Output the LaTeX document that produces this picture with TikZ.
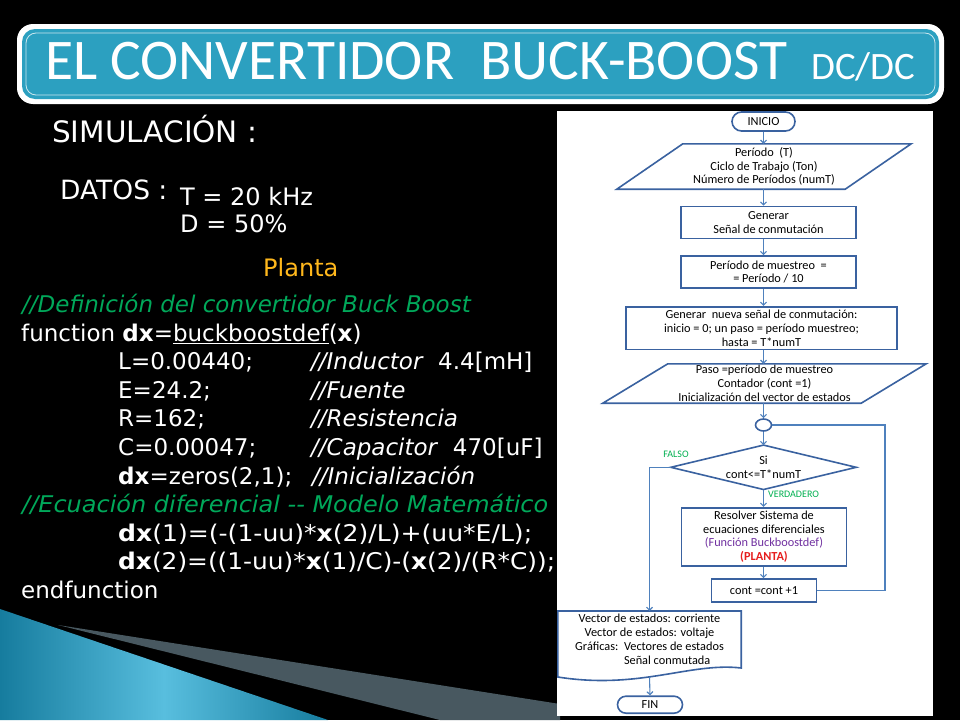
\documentclass[tikz,border=0pt]{standalone}
\usepackage{fontspec}
\usepackage{graphicx}
\setmainfont{DejaVu Sans}
\newfontfamily\calfont{Carlito}
\usetikzlibrary{arrows.meta,shapes.geometric,shapes.misc,calc}
\definecolor{titleteal}{RGB}{44,160,192}
\definecolor{tealdark}{RGB}{22,124,158}
\definecolor{teallight}{RGB}{88,190,222}
\definecolor{wedgegray}{RGB}{72,88,96}
\definecolor{cmtgreen}{RGB}{0,168,90}
\definecolor{plantaorange}{RGB}{255,184,28}
\definecolor{flowborder}{RGB}{58,98,160}
\definecolor{flowline}{RGB}{79,129,189}
\definecolor{lblgreen}{RGB}{0,176,80}
\definecolor{fpurple}{RGB}{112,48,160}
\definecolor{fred}{RGB}{230,30,30}
\tikzset{
  slidetxt/.style={inner sep=0pt, anchor=base west, text=white},
  codetxt/.style={inner sep=0pt, anchor=base west, text=white, font=\fontsize{23}{28}\selectfont},
  ftext/.style={inner sep=0pt, align=center, font=\calfont\fontsize{12.3}{13.8}\selectfont, text=black},
  fbox/.style={ftext, draw=flowborder, line width=1.6pt, fill=white},
  fborder/.style={draw=flowborder, line width=1.6pt},
  fterm/.style={ftext, rounded rectangle, draw=flowborder, line width=1.6pt, fill=white},
  fline/.style={draw=flowline, line width=1.1pt},
  farrow/.style={fline, -{Straight Barb[length=3pt,width=6pt]}},
  flbl/.style={inner sep=0pt, text=lblgreen, font=\calfont\fontsize{10}{12}\selectfont}
}
\begin{document}
\begin{tikzpicture}[x=1pt,y=-1pt]
\useasboundingbox (0,0) rectangle (960,720);
\fill[black] (0,0) rectangle (960,720);

% bottom-left swoosh
\fill[wedgegray] (58,625) -- (560,704) -- (560,720) -- (440,720) -- cycle;
\shade[left color=tealdark, right color=tealdark, middle color=teallight] (0,609) -- (328,720) -- (0,720) -- cycle;

% title banner
\fill[white, rounded corners=16pt] (17,24) rectangle (944,104);
\fill[titleteal, rounded corners=13pt] (22,29) rectangle (939,99);
\draw[white, opacity=0.75, line width=0.8pt, rounded corners=10pt] (26,33) rectangle (935,95);
\node[slidetxt, font=\calfont\fontsize{57.5}{60}\selectfont] (title) at (45,79) {EL CONVERTIDOR\ \ BUCK-BOOST};
\node[slidetxt, font=\calfont\fontsize{38.8}{40}\selectfont] (dcdc) at (811,79) {DC/DC};

% left texts
\node[slidetxt, font=\fontsize{29.5}{32}\selectfont] (sim) at (52,142.5) {SIMULACIÓN :};
\node[slidetxt, font=\fontsize{26.5}{30}\selectfont] (datos) at (60,199.5) {DATOS :};
\node[slidetxt, font=\fontsize{24}{28}\selectfont] (tval) at (180,205) {T = 20 kHz};
\node[slidetxt, font=\fontsize{24}{28}\selectfont] (dval) at (180,232.5) {D = 50\%};
\node[slidetxt, text=plantaorange, font=\fontsize{24}{28}\selectfont] (planta) at (263,276.7) {Planta};

% code
\node[codetxt, text=cmtgreen] (k1) at (22,312.5) {\itshape //Definición del convertidor Buck Boost};
\node[codetxt] (k2) at (21,341.1) {function \textbf{dx}=\underline{buckboostdef}(\textbf{x})};
\node[codetxt] (k3) at (118,369.7) {L=0.00440;};
\node[codetxt] (k3c) at (311,369.7) {\textit{//Inductor}\ \ 4.4[mH]};
\node[codetxt] (k4) at (118,398.3) {E=24.2;};
\node[codetxt] (k4c) at (311,398.3) {\textit{//Fuente}};
\node[codetxt] (k5) at (118,426.9) {R=162;};
\node[codetxt] (k5c) at (311,426.9) {\textit{//Resistencia}};
\node[codetxt] (k6) at (118,455.5) {C=0.00047;};
\node[codetxt] (k6c) at (311,455.5) {\textit{//Capacitor}\ \ 470[uF]};
\node[codetxt] (k7) at (118,484.1) {\textbf{dx}=zeros(2,1);};
\node[codetxt] (k7c) at (312,484.1) {\textit{//Inicialización}};
\node[codetxt, text=cmtgreen] (k8) at (22,512.7) {\resizebox{526pt}{\height}{\itshape //Ecuación diferencial -{}- Modelo Matemático}};
\node[codetxt] (k9) at (118,541.3) {\resizebox{414pt}{\height}{\textbf{dx}(1)=(-(1-uu)*\textbf{x}(2)/L)+(uu*E/L);}};
\node[codetxt] (k10) at (118,569.9) {\resizebox{437pt}{\height}{\textbf{dx}(2)=((1-uu)*\textbf{x}(1)/C)-(\textbf{x}(2)/(R*C));}};
\node[codetxt] (k11) at (21,598.5) {endfunction};

% flowchart panel
\fill[white] (557,111) rectangle (933,716);
\coordinate (axis) at (763.5,0);

\node[fterm, minimum width=63pt, minimum height=19pt] (ini) at (763.5,121.5) {INICIO};

\node[ftext, minimum width=294pt, minimum height=45pt] (par1) at (764,166.5)
  {Período\ \ (T)\\Ciclo de Trabajo (Ton)\\Número de Períodos (numT)};
\draw[fborder] ($(par1.north west)+(66,0)$) -- (par1.north east) -- ($(par1.south east)+(-66,0)$) -- (par1.south west) -- cycle;

\node[fbox, minimum width=175pt, minimum height=32pt] (gen1) at (768.5,222.5)
  {Generar\\Señal de conmutación};
\node[fbox, minimum width=175pt, minimum height=32pt] (mue) at (768.5,272)
  {Período de muestreo\ \ =\\= Período / 10};
\node[fbox, minimum width=271pt, minimum height=42.6pt] (gen2) at (761.5,328)
  {Generar\ \ nueva señal de conmutación:\\inicio = 0; un paso = período muestreo;\\hasta = T*numT};

\node[ftext, minimum width=323pt, minimum height=39pt] (par2) at (764.5,383.5)
  {Paso =período de muestreo\\Contador (cont =1)\\Inicialización del vector de estados};
\draw[fborder] ($(par2.north west)+(65,0)$) -- (par2.north east) -- ($(par2.south east)+(-65,0)$) -- (par2.south west) -- cycle;

\node[ellipse, draw=flowborder, line width=1.6pt, fill=white, minimum width=16pt, minimum height=12pt, inner sep=0pt] (circ) at (763.5,425) {};

\node[ftext, minimum width=185pt, minimum height=44pt] (dia) at (763.5,467.3)
  {Si\\cont<=T*numT};
\draw[fborder] (dia.north) -- (dia.east) -- (dia.south) -- (dia.west) -- cycle;

\node[fbox, minimum width=165pt, minimum height=58pt] (res) at (764,536.7)
  {Resolver Sistema de\\ecuaciones diferenciales\\\textcolor{fpurple}{(Función Buckboostdef)}\\\textcolor{fred}{\bfseries (PLANTA)}};

\node[fbox, minimum width=105pt, minimum height=23pt] (cnt) at (764,590.5) {cont =cont +1};

\node[ftext, minimum width=183pt, minimum height=56pt, anchor=north] (doc) at (649.5,611)
  {Vector de estados: corriente\\Vector de estados: voltaje\\Gráficas:\ \ Vectores de estados\\\rlap{\hphantom{Gráficas:\ \ }Señal conmutada}\hphantom{Gráficas:\ \ Vectores de estados}};
\draw[fborder] (doc.north west) -- (doc.north east) -- ($(doc.north east)+(0,57)$)
  .. controls ($(doc.north east)+(-51,51)$) and ($(doc.north west)+(82,79)$) .. ($(doc.north west)+(0,66)$) -- cycle;
\coordinate (docb) at (649.5,677);

\node[fterm, minimum width=65pt, minimum height=17pt] (fin) at (650,704.7) {FIN};

% connectors
\draw[farrow] (ini.south) -- (axis |- par1.north);
\draw[farrow] (axis |- par1.south) -- (axis |- gen1.north);
\draw[farrow] (axis |- gen1.south) -- (axis |- mue.north);
\draw[farrow] (axis |- mue.south) -- (axis |- gen2.north);
\draw[farrow] (axis |- gen2.south) -- (axis |- par2.north);
\draw[farrow] (axis |- par2.south) -- (circ.north);
\draw[farrow] (circ.south) -- (dia.north);
\draw[farrow] (dia.south) -- (axis |- res.north);
\draw[farrow] (axis |- res.south) -- (axis |- cnt.north);
\coordinate (loopc) at (885,425);
\draw[fline] (cnt.east) -| (loopc) -- (circ.east);
\draw[farrow] (dia.west) -| (doc.north);
\draw[farrow] (docb) -- (fin.north);

\node[flbl] (falso) at (676,454) {FALSO};
\node[flbl, anchor=west] (verd) at (768,494.5) {VERDADERO};
\end{tikzpicture}
\end{document}
